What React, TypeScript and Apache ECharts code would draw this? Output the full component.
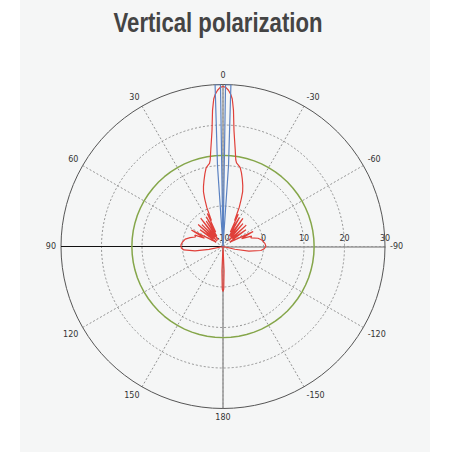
import React, { useEffect, useRef } from 'react';
import * as echarts from 'echarts';

const TITLE = 'Vertical polarization';

// angles in degrees (0 = up, positive = counter-clockwise), gains in dB
const redAngles = [
  -180, -179, -177.5, -175, -106, -103, -100, -96, -93, -90, -86, -81, -76.8, -73, -70, -67,
  -63.7, -57, -54, -50, -47.3, -44, -41, -38, -35.3, -31.5, -29.5, -27, -25.5, -24, -22.5,
  -21, -19.7, -18, -16, -14, -12.2, -10.5, -9.2, -8.4, -7.1, -6.3, -5.4, -4.4, -3.6, -3, -2,
  -1, 0, 1, 2, 3, 3.6, 4.4, 5.4, 6.3, 7.1, 8.4, 9.2, 10.5, 12.2, 14, 16, 18, 19.7, 21, 22.5,
  24, 25.5, 27, 29.3, 31.5, 33.5, 35.5, 38.3, 41, 44, 46, 48.4, 51, 54, 57, 62.5, 66, 68, 71,
  75, 79, 84, 88, 92, 95, 99, 102, 105, 175, 177.5, 179, 180,
];
const redGains = [
  1.1, 0.5, -4, -10, -10, -7, -3.5, -0.6, 0.2, 0.6, 0.4, -0.2, -1.1, -2.8, -2.5, -5,
  -1.7, -8, -3, -7, -2.2, -8, -2.5, -7, -1.5, -7, -1.8, -6, -1.2, -3, 0.5,
  2.6, 4.4, 5.8, 7.3, 8.8, 10, 10.5, 10.9, 11.6, 14.3, 16.2, 18.8, 23.7, 26.5, 27.5, 28.6,
  29.3, 29.5, 29.3, 28.6, 27.5, 26.5, 23.7, 18.8, 16.2, 14.3, 11.6, 10.8, 10.4, 9.8, 8.5, 7, 5.6, 4.3, 2.6, 0.5,
  -3, -1, -6, -1.6, -7, -2.5, -8, -1.1, -7, -2.5, -8, -1.8, -7, -3, -8, -1.2, -5, -2.5, -2.8,
  -1.6, -0.5, 0.1, 0.4, 0.3, -0.3, -3, -6.5, -10, -10, -4, 0.5, 1.1,
];

const blueAngles = [-180, -4.5, -3.9, -2.8, -0.9, 0, 0.9, 2.8, 3.9, 4.5, 180];
const blueGains = [-10, -10, 10, 30, 30, -10, 30, 30, 10, -10, -10];

const levelGain = 12.5;
const levelAngles = Array.from({ length: 73 }, (_, i) => -180 + i * 5);

// angle axis runs from -90 (right) to 270, counter-clockwise
const toAxis = (a: number) => (a < -90 ? a + 360 : a);
const pairs = (angles: number[], gains: number[]) =>
  angles.map((a, i) => [gains[i], toAxis(a)]);

const App = () => {
  const chartRef = useRef<HTMLDivElement>(null);

  useEffect(() => {
    if (!chartRef.current) return;
    const chart = echarts.init(chartRef.current, undefined, { renderer: 'svg' });

    const dotted = { color: '#7a7a7a', type: [2, 2], width: 0.8 };

    chart.setOption({
      animation: false,
      graphic: [
        {
          type: 'text',
          x: 218,
          y: 22,
          scaleX: 0.79,
          style: {
            text: TITLE,
            textAlign: 'center',
            textVerticalAlign: 'middle',
            fill: '#444',
            font: 'bold 28px "Liberation Sans", sans-serif',
          },
        },
      ],
      polar: { center: [223, 246.5], radius: 162 },
      angleAxis: {
        type: 'value',
        min: -90,
        max: 270,
        interval: 30,
        startAngle: 0,
        clockwise: false,
        axisLine: { lineStyle: { color: '#555', width: 1 } },
        axisTick: { show: false },
        axisLabel: {
          margin: 5,
          fontSize: 8,
          color: '#333',
          fontFamily: 'DejaVu Sans',
          formatter: (v: number) => String(v > 180 ? v - 360 : v),
        },
        splitLine: { lineStyle: dotted },
      },
      radiusAxis: {
        type: 'value',
        min: -10,
        max: 30,
        interval: 10,
        axisLine: { lineStyle: { color: '#999', width: 1.5 } },
        axisTick: { show: false },
        axisLabel: { margin: 4, fontSize: 8, color: '#333', fontFamily: 'DejaVu Sans' },
        splitLine: {
          lineStyle: { ...dotted, color: ['#7a7a7a', '#7a7a7a', '#7a7a7a', '#7a7a7a', 'rgba(0,0,0,0)'] },
        },
      },
      series: [
        {
          type: 'line',
          coordinateSystem: 'polar',
          symbol: 'none',
          silent: true,
          data: [[30, 0], [-10, 0], [30, 180]],
          lineStyle: { color: '#999', width: 1.5 },
        },
        {
          type: 'line',
          coordinateSystem: 'polar',
          symbol: 'none',
          silent: true,
          data: [[30, 90], [-10, 90]],
          lineStyle: { color: '#111', width: 1.2 },
        },
        {
          type: 'line',
          coordinateSystem: 'polar',
          symbol: 'none',
          silent: true,
          data: levelAngles.map((a) => [levelGain, toAxis(a)]),
          lineStyle: { color: '#85a64a', width: 1.5 },
        },
        {
          type: 'line',
          coordinateSystem: 'polar',
          symbol: 'none',
          silent: true,
          data: pairs(redAngles, redGains),
          lineStyle: { color: '#e0403a', width: 1.2 },
        },
        {
          type: 'line',
          coordinateSystem: 'polar',
          symbol: 'none',
          silent: true,
          data: pairs(blueAngles, blueGains),
          lineStyle: { color: '#5b82c2', width: 1.2 },
        },
      ],
    });

    return () => {
      chart.dispose();
    };
  }, []);

  return (
    <div style={{ position: 'fixed', left: 0, top: 0, width: 452, height: 452, background: '#fff' }}>
      <div style={{ position: 'absolute', left: 20, top: 0, width: 410, height: 452, background: '#f5f6f6' }} />
      <div ref={chartRef} style={{ position: 'absolute', left: 0, top: 0, width: 452, height: 452 }} />
    </div>
  );
};

export default App;
